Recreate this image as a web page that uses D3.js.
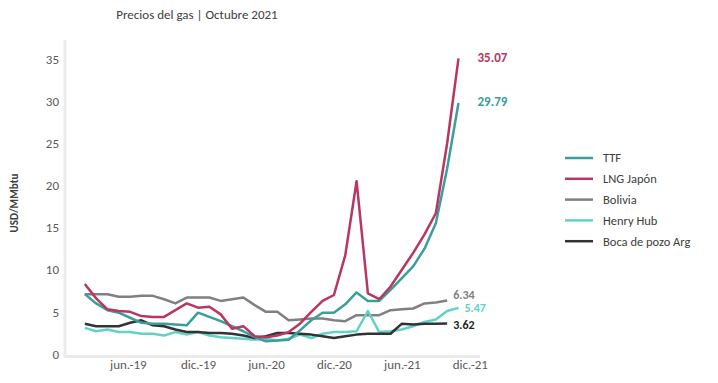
<!DOCTYPE html>
<html>
<head>
<meta charset="utf-8">
<script src="https://cdn.jsdelivr.net/npm/d3@7"></script>
<style>
    body { margin: 0; background: #fff; }
    svg { font-family: Calibri, Carlito, "Open Sans", sans-serif; }
</style>
</head>
<body>
<div id="chart"></div>
<script>
// Monthly values, Jan 2019 .. Oct 2021 (index 0..33)
const TTF = [7.1, 6.0, 5.2, 4.9, 4.3, 3.7, 3.6, 3.6, 3.5, 3.4, 4.9, 4.4, 3.9, 3.3, 2.7, 2.0, 1.5, 1.6, 1.7, 2.8,
    4.0, 4.9, 4.9, 5.9, 7.3, 6.3, 6.3, 7.6, 9.0, 10.4, 12.5, 15.5, 22.0, 29.79];
const LNG_JAPON = [8.3, 6.6, 5.3, 5.1, 5.0, 4.5, 4.4, 4.4, 5.2, 6.0, 5.5, 5.6, 4.7, 3.0, 3.3, 2.1, 2.0, 2.2, 2.6, 3.6,
    5.0, 6.3, 7.0, 11.7, 20.5, 7.2, 6.5, 8.0, 10.0, 12.0, 14.2, 16.7, 25.0, 35.07];
const BOLIVIA = [7.1, 7.1, 7.1, 6.8, 6.8, 6.9, 6.9, 6.5, 6.0, 6.7, 6.7, 6.7, 6.3, 6.5, 6.7, 5.8, 5.0, 5.0, 4.0, 4.1,
    4.2, 4.2, 4.0, 3.9, 4.6, 4.6, 4.6, 5.2, 5.3, 5.4, 6.0, 6.1, 6.34];
const HENRY_HUB = [3.1, 2.7, 2.9, 2.6, 2.6, 2.4, 2.4, 2.2, 2.6, 2.3, 2.6, 2.2, 2.0, 1.9, 1.8, 1.7, 1.8, 1.6, 1.8, 2.3,
    1.9, 2.4, 2.6, 2.6, 2.7, 5.1, 2.6, 2.7, 2.9, 3.3, 3.8, 4.1, 5.1, 5.47];
const BOCA_POZO = [3.6, 3.3, 3.3, 3.3, 3.7, 4.0, 3.4, 3.3, 2.9, 2.6, 2.6, 2.5, 2.5, 2.4, 2.2, 1.9, 2.1, 2.5, 2.5, 2.4,
    2.3, 2.1, 1.9, 2.1, 2.3, 2.4, 2.4, 2.4, 3.6, 3.5, 3.6, 3.6, 3.62];

const TICK_POSITIONS = [3.8, 10, 16, 22, 28, 34];
const TICK_LABELS = ['jun.-19', 'dic.-19', 'jun.-20', 'dic.-20', 'jun.-21', 'dic.-21'];
const Y_TICKS = [0, 5, 10, 15, 20, 25, 30, 35];

const SERIES = [
    {name: 'TTF', values: TTF, color: '#3a9e9b', label: '29.79', labelDx: 19, labelDy: -1, size: 13},
    {name: 'LNG Japón', values: LNG_JAPON, color: '#b8365f', label: '35.07', labelDx: 19, labelDy: -1, size: 13},
    {name: 'Bolivia', values: BOLIVIA, color: '#808080', label: '6.34', labelDx: 6, labelDy: -6, size: 12},
    {name: 'Henry Hub', values: HENRY_HUB, color: '#62d2c6', label: '5.47', labelDx: 6, labelDy: 0, size: 12},
    {name: 'Boca de pozo Arg', values: BOCA_POZO, color: '#333333', label: '3.62', labelDx: 6, labelDy: 1, size: 12}
];

const width = 718, height = 383;
const plot = {left: 65, right: 480, top: 40, bottom: 355};

const svg = d3.select('#chart').append('svg')
    .attr('width', width)
    .attr('height', height);

const x = d3.scaleLinear().domain([-1.75, 34.9]).range([plot.left, plot.right]);
const y = d3.scaleLinear().domain([0, 35]).range([354, 59]);

// title
svg.append('text')
    .attr('x', 197).attr('y', 19)
    .attr('text-anchor', 'middle')
    .attr('font-size', '13px')
    .attr('fill', '#404040')
    .text('Precios del gas | Octubre 2021');

// axis lines (light grey, thick)
svg.append('line')
    .attr('x1', plot.left).attr('x2', plot.left)
    .attr('y1', plot.top).attr('y2', plot.bottom + 2)
    .attr('stroke', '#ebebeb').attr('stroke-width', 3);
svg.append('line')
    .attr('x1', plot.left - 1.5).attr('x2', plot.right)
    .attr('y1', plot.bottom + 1.5).attr('y2', plot.bottom + 1.5)
    .attr('stroke', '#ebebeb').attr('stroke-width', 3);

// y axis
const yAxis = d3.axisLeft(y).tickValues(Y_TICKS).tickSize(0).tickPadding(0);
const yG = svg.append('g')
    .attr('transform', 'translate(59,0)')
    .call(yAxis);
yG.select('.domain').remove();
yG.selectAll('text')
    .attr('font-size', '13px')
    .attr('fill', '#595959')
    .attr('font-family', 'Calibri, Carlito, "Open Sans", sans-serif');

// x axis
const xAxis = d3.axisBottom(x).tickValues(TICK_POSITIONS)
    .tickFormat(function (d, i) { return TICK_LABELS[i]; })
    .tickSize(0).tickPadding(0);
const xG = svg.append('g')
    .attr('transform', 'translate(0,360)')
    .call(xAxis);
xG.select('.domain').remove();
xG.selectAll('text')
    .attr('font-size', '13px')
    .attr('fill', '#595959')
    .attr('font-family', 'Calibri, Carlito, "Open Sans", sans-serif');

// y title
svg.append('text')
    .attr('transform', 'translate(18,203) rotate(-90)')
    .attr('text-anchor', 'middle')
    .attr('font-size', '11px')
    .attr('font-weight', 'bold')
    .attr('fill', '#404040')
    .text('USD/MMbtu');

const line = d3.line()
    .x(function (d, i) { return x(i); })
    .y(function (d) { return y(d); });

// draw series in back-to-front order
const drawOrder = [2, 3, 4, 0, 1];
drawOrder.forEach(function (k) {
    var s = SERIES[k];
    svg.append('path')
        .datum(s.values)
        .attr('d', line)
        .attr('fill', 'none')
        .attr('stroke', s.color)
        .attr('stroke-width', 2.5)
        .attr('stroke-linejoin', 'round');

    var last = s.values.length - 1;
    svg.append('text')
        .attr('x', x(last) + s.labelDx)
        .attr('y', y(s.values[last]) + s.labelDy)
        .attr('dy', '0.35em')
        .attr('font-size', s.size + 'px')
        .attr('font-weight', 'bold')
        .attr('fill', k === 4 ? '#222' : s.color)
        .text(s.label);
});

// legend
const legend = svg.append('g').attr('transform', 'translate(565,158)');
SERIES.forEach(function (s, i) {
    var row = legend.append('g').attr('transform', 'translate(0,' + (i * 20.8) + ')');
    row.append('line')
        .attr('x1', 0).attr('x2', 28)
        .attr('stroke', s.color)
        .attr('stroke-width', 2.5);
    row.append('text')
        .attr('x', 38)
        .attr('dy', '0.35em')
        .attr('font-size', '12.5px')
        .attr('fill', '#404040')
        .text(s.name);
});
</script>
</body>
</html>
